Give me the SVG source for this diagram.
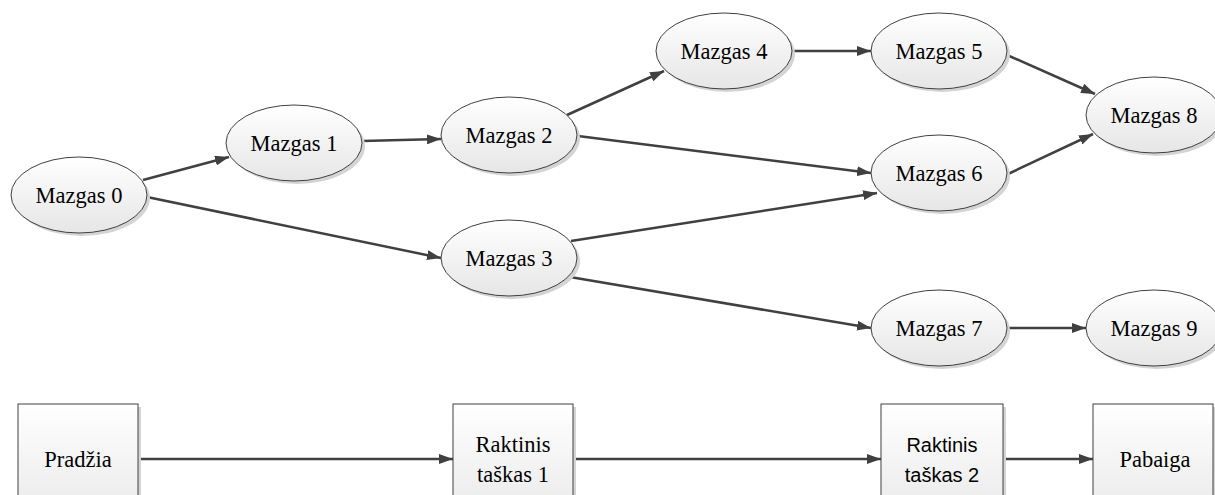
<svg xmlns="http://www.w3.org/2000/svg" width="1215" height="495" viewBox="0 0 1215 495">
<defs>
<linearGradient id="g" x1="0" y1="0" x2="0" y2="1">
<stop offset="0" stop-color="#ffffff"/>
<stop offset="1" stop-color="#e6e6e6"/>
</linearGradient>
<marker id="ah" viewBox="0 0 14 10" refX="14" refY="5" markerWidth="14" markerHeight="10" markerUnits="userSpaceOnUse" orient="auto">
<path d="M0,0 L14,5 L0,10 Z" fill="#404040"/>
</marker>
<style>
.sh{fill:#d4d4d4;stroke:none}
.nd{fill:url(#g);stroke:#404040;stroke-width:1}
.t{font-family:"Liberation Serif","Times New Roman",serif;font-size:22.5px;fill:#000;text-anchor:middle}
.ts{font-family:"Liberation Sans",Arial,sans-serif;font-size:20px;fill:#000;text-anchor:middle}
.c{stroke:#404040;stroke-width:2.5;fill:none;marker-end:url(#ah)}
</style>
</defs>
<rect width="1215" height="495" fill="#ffffff"/>
<g id="connectors">
<line class="c" x1="143" y1="180" x2="229" y2="157"/>
<line class="c" x1="147" y1="197" x2="441" y2="258"/>
<line class="c" x1="362" y1="141" x2="441" y2="139"/>
<line class="c" x1="567" y1="115" x2="664" y2="71"/>
<line class="c" x1="578" y1="136" x2="871" y2="173"/>
<line class="c" x1="571" y1="241" x2="877" y2="193"/>
<line class="c" x1="570" y1="277" x2="871" y2="328"/>
<line class="c" x1="792" y1="51" x2="871" y2="51"/>
<line class="c" x1="1007" y1="55" x2="1095" y2="94"/>
<line class="c" x1="1008" y1="174" x2="1093" y2="134"/>
<line class="c" x1="1007" y1="328" x2="1086" y2="328"/>
<line class="c" x1="138" y1="459" x2="453" y2="459"/>
<line class="c" x1="573" y1="459" x2="881" y2="459"/>
<line class="c" x1="1003" y1="459" x2="1093" y2="459"/>
</g>
<g id="n0"><ellipse class="sh" cx="82" cy="198" rx="68" ry="38"/><ellipse class="nd" cx="79" cy="195" rx="68" ry="38"/><text class="t" x="79" y="203">Mazgas 0</text></g>
<g id="n1"><ellipse class="sh" cx="297" cy="146" rx="68" ry="38"/><ellipse class="nd" cx="294" cy="143" rx="68" ry="38"/><text class="t" x="294" y="151">Mazgas 1</text></g>
<g id="n2"><ellipse class="sh" cx="512" cy="138" rx="68" ry="38"/><ellipse class="nd" cx="509" cy="135" rx="68" ry="38"/><text class="t" x="509" y="143">Mazgas 2</text></g>
<g id="n3"><ellipse class="sh" cx="512" cy="261" rx="68" ry="38"/><ellipse class="nd" cx="509" cy="258" rx="68" ry="38"/><text class="t" x="509" y="266">Mazgas 3</text></g>
<g id="n4"><ellipse class="sh" cx="727" cy="54" rx="68" ry="38"/><ellipse class="nd" cx="724" cy="51" rx="68" ry="38"/><text class="t" x="724" y="59">Mazgas 4</text></g>
<g id="n5"><ellipse class="sh" cx="942" cy="54" rx="68" ry="38"/><ellipse class="nd" cx="939" cy="51" rx="68" ry="38"/><text class="t" x="939" y="59">Mazgas 5</text></g>
<g id="n6"><ellipse class="sh" cx="942" cy="176" rx="68" ry="38"/><ellipse class="nd" cx="939" cy="173" rx="68" ry="38"/><text class="t" x="939" y="181">Mazgas 6</text></g>
<g id="n7"><ellipse class="sh" cx="942" cy="331" rx="68" ry="38"/><ellipse class="nd" cx="939" cy="328" rx="68" ry="38"/><text class="t" x="939" y="336">Mazgas 7</text></g>
<g id="n8"><ellipse class="sh" cx="1157" cy="118" rx="68" ry="38"/><ellipse class="nd" cx="1154" cy="115" rx="68" ry="38"/><text class="t" x="1154" y="123">Mazgas 8</text></g>
<g id="n9"><ellipse class="sh" cx="1157" cy="331" rx="68" ry="38"/><ellipse class="nd" cx="1154" cy="328" rx="68" ry="38"/><text class="t" x="1154" y="336">Mazgas 9</text></g>
<g id="b0"><rect class="sh" x="21" y="407" width="120" height="130"/><rect class="nd" x="18" y="404" width="120" height="130"/><text class="t" x="78" y="467">Pradžia</text></g>
<g id="b1"><rect class="sh" x="456" y="407" width="120" height="130"/><rect class="nd" x="453" y="404" width="120" height="130"/><text class="t" x="513" y="452">Raktinis</text><text class="t" x="513" y="482">taškas 1</text></g>
<g id="b2"><rect class="sh" x="884" y="407" width="122" height="130"/><rect class="nd" x="881" y="404" width="122" height="130"/><text class="ts" x="942" y="452">Raktinis</text><text class="ts" x="942" y="482">taškas 2</text></g>
<g id="b3"><rect class="sh" x="1096" y="407" width="120" height="130"/><rect class="nd" x="1093" y="404" width="120" height="130"/><text class="t" x="1155" y="467">Pabaiga</text></g>
</svg>
